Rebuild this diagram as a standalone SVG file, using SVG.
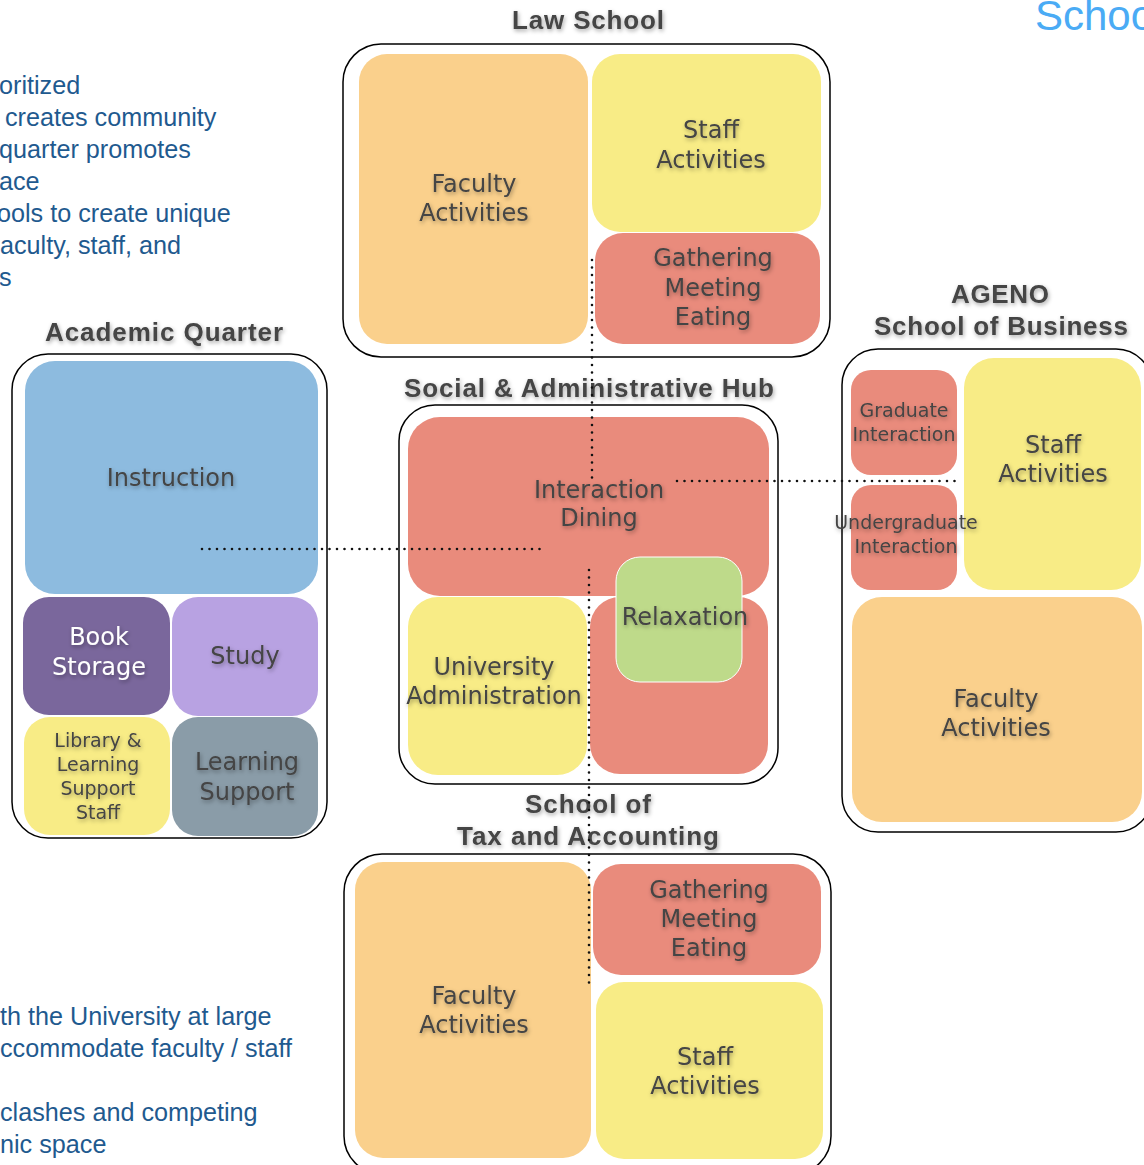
<svg xmlns="http://www.w3.org/2000/svg" width="1144" height="1165" viewBox="0 0 1144 1165">
<defs>
<filter id="sh" x="-20%" y="-50%" width="140%" height="200%">
<feDropShadow dx="1" dy="2" stdDeviation="2" flood-color="#000" flood-opacity="0.35"/>
</filter>
<style>
.outer{fill:#fff;stroke:#000;stroke-width:1.5}
.or{fill:#FAD08C}
.ye{fill:#F8EC86}
.sa{fill:#E98B7C}
.bl{fill:#8DBBDF}
.dp{fill:#7A679C}
.lp{fill:#B8A2E2}
.gr{fill:#8A9CA8}
.gn{fill:#BEDA8A;stroke:#fff;stroke-width:1}
.title{font-family:"Liberation Sans",Arial,sans-serif;font-weight:bold;font-size:26px;fill:#444;text-anchor:middle;filter:url(#sh)}
.lbl{font-family:"DejaVu Sans",Verdana,sans-serif;font-size:24px;fill:#444;text-anchor:middle;filter:url(#sh)}
.sm{font-size:19px}
.wt{fill:#fff}
.note{font-family:"Liberation Sans",Arial,sans-serif;font-size:25.2px;fill:#1F5A8F}
.dots{fill:none;stroke:#111;stroke-width:2.6;stroke-linecap:round;stroke-dasharray:0 7.5}
</style>
</defs>

<g id="notes">
<text class="note" x="-1" y="94">oritized</text>
<text class="note" x="5" y="126">creates community</text>
<text class="note" x="-1" y="158">quarter promotes</text>
<text class="note" x="-1" y="190">ace</text>
<text class="note" x="-3" y="222">ools to create unique</text>
<text class="note" x="0" y="254">aculty, staff, and</text>
<text class="note" x="-1" y="286">s</text>
<text class="note" x="0" y="1025">th the University at large</text>
<text class="note" x="0" y="1057">ccommodate faculty / staff</text>
<text class="note" x="0" y="1121">clashes and competing</text>
<text class="note" x="0" y="1153">nic space</text>
<text x="1035" y="30" style="font-family:'Liberation Sans',Arial,sans-serif;font-size:42px;fill:#4AABF5">Schoo</text>
</g>

<g id="law-school">
<text class="title" x="588" y="29" textLength="152" lengthAdjust="spacing">Law School</text>
<rect class="outer" x="343" y="44" width="487" height="313" rx="38"/>
<g id="law-faculty"><rect class="or" x="359" y="54" width="229" height="290" rx="28"/>
<text class="lbl" x="474" y="192">Faculty</text><text class="lbl" x="474" y="221">Activities</text></g>
<g id="law-staff"><rect class="ye" x="592" y="54" width="229" height="178" rx="28"/>
<text class="lbl" x="711" y="138">Staff</text><text class="lbl" x="711" y="168">Activities</text></g>
<g id="law-gathering"><rect class="sa" x="595" y="233" width="225" height="111" rx="28"/>
<text class="lbl" x="713" y="266">Gathering</text><text class="lbl" x="713" y="296">Meeting</text><text class="lbl" x="713" y="325">Eating</text></g>
</g>

<g id="academic-quarter">
<text class="title" x="164" y="341" textLength="238" lengthAdjust="spacing">Academic Quarter</text>
<rect class="outer" x="12" y="354" width="315" height="484" rx="36"/>
<g id="instruction"><rect class="bl" x="25" y="361" width="293" height="233" rx="30"/>
<text class="lbl" x="171" y="486">Instruction</text></g>
<g id="book-storage"><rect class="dp" x="23" y="597" width="147" height="118" rx="26"/>
<text class="lbl wt" x="99" y="645">Book</text><text class="lbl wt" x="99" y="675">Storage</text></g>
<g id="study"><rect class="lp" x="172" y="597" width="146" height="119" rx="26"/>
<text class="lbl" x="245" y="664">Study</text></g>
<g id="library-staff"><rect class="ye" x="24" y="717" width="146" height="118" rx="26"/>
<text class="lbl sm" x="98" y="747">Library &amp;</text><text class="lbl sm" x="98" y="771">Learning</text><text class="lbl sm" x="98" y="795">Support</text><text class="lbl sm" x="98" y="819">Staff</text></g>
<g id="learning-support"><rect class="gr" x="172" y="717" width="146" height="119" rx="26"/>
<text class="lbl" x="247" y="770">Learning</text><text class="lbl" x="247" y="800">Support</text></g>
</g>

<g id="social-hub">
<text class="title" x="589" y="397" textLength="370" lengthAdjust="spacing">Social &amp; Administrative Hub</text>
<rect class="outer" x="399" y="405" width="379" height="379" rx="36"/>
<g id="interaction-dining"><rect class="sa" x="408" y="417" width="361" height="179" rx="32"/>
<text class="lbl" x="599" y="498">Interaction</text><text class="lbl" x="599" y="526">Dining</text></g>
<g id="university-admin"><rect class="ye" x="408" y="597" width="179" height="178" rx="30"/>
<text class="lbl" x="494" y="675">University</text><text class="lbl" x="494" y="704">Administration</text></g>
<g id="hub-salmon"><rect class="sa" x="590" y="597" width="178" height="177" rx="30"/></g>
<g id="relaxation"><rect class="gn" x="616" y="557" width="126" height="125" rx="24"/>
<text class="lbl" x="685" y="625">Relaxation</text></g>
</g>

<g id="ageno">
<text class="title" x="1000" y="303" textLength="98" lengthAdjust="spacing">AGENO</text>
<text class="title" x="1001" y="335" textLength="254" lengthAdjust="spacing">School of Business</text>
<rect class="outer" x="842" y="349" width="310" height="483" rx="36"/>
<g id="ageno-staff"><rect class="ye" x="964" y="358" width="177" height="232" rx="30"/>
<text class="lbl" x="1053" y="453">Staff</text><text class="lbl" x="1053" y="482">Activities</text></g>
<g id="graduate"><rect class="sa" x="851" y="370" width="106" height="105" rx="20"/>
<text class="lbl sm" x="904" y="417">Graduate</text><text class="lbl sm" x="904" y="441">Interaction</text></g>
<g id="undergraduate"><rect class="sa" x="851" y="485" width="106" height="105" rx="20"/>
<text class="lbl sm" x="906" y="529">Undergraduate</text><text class="lbl sm" x="906" y="553">Interaction</text></g>
<g id="ageno-faculty"><rect class="or" x="852" y="597" width="290" height="225" rx="30"/>
<text class="lbl" x="996" y="707">Faculty</text><text class="lbl" x="996" y="736">Activities</text></g>
</g>

<g id="tax-school">
<text class="title" x="588" y="813" textLength="126" lengthAdjust="spacing">School of</text>
<text class="title" x="588" y="845" textLength="262" lengthAdjust="spacing">Tax and Accounting</text>
<rect class="outer" x="344" y="854" width="487" height="320" rx="38"/>
<g id="tax-faculty"><rect class="or" x="355" y="862" width="236" height="296" rx="28"/>
<text class="lbl" x="474" y="1004">Faculty</text><text class="lbl" x="474" y="1033">Activities</text></g>
<g id="tax-gathering"><rect class="sa" x="593" y="864" width="228" height="111" rx="28"/>
<text class="lbl" x="709" y="898">Gathering</text><text class="lbl" x="709" y="927">Meeting</text><text class="lbl" x="709" y="956">Eating</text></g>
<g id="tax-staff"><rect class="ye" x="596" y="982" width="227" height="177" rx="28"/>
<text class="lbl" x="705" y="1065">Staff</text><text class="lbl" x="705" y="1094">Activities</text></g>
</g>

<g id="connectors">
<line class="dots" x1="592" y1="260" x2="592" y2="478"/>
<line class="dots" x1="677" y1="481" x2="960" y2="481"/>
<line class="dots" x1="202" y1="549" x2="541" y2="549"/>
<line class="dots" x1="589" y1="570" x2="589" y2="988"/>
</g>
</svg>
